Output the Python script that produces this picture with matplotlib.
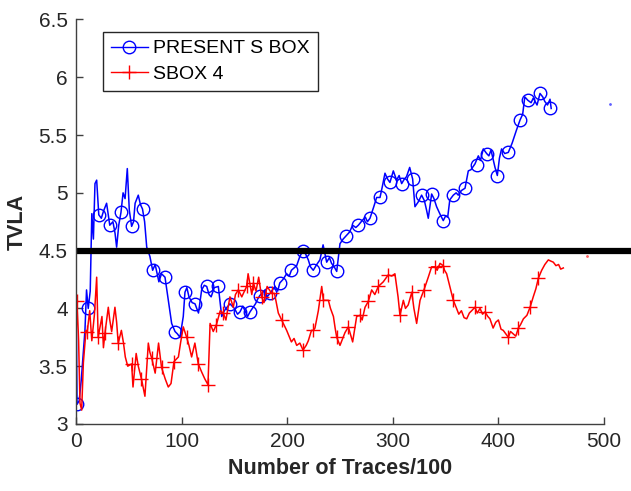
import numpy as np
import matplotlib.pyplot as plt

plt.rcParams['font.family'] = ['Liberation Sans', 'DejaVu Sans']

# PRESENT S BOX trace (x, TVLA)
blue_x = [0, 1, 3, 5, 8.5, 10, 11.6, 13.5, 15, 16.5, 18, 19.6, 21.6, 24, 26, 29, 32, 35, 37, 38.5,
          40.5, 42.6, 44.6, 46.5, 48.6, 50.5, 52.7, 54.5, 56, 59, 61, 63, 65, 67, 70, 72.6, 75, 78.5,
          81, 84.3, 87, 90.6, 93.8, 96, 98.5, 101.6, 103.2, 105, 107, 110, 112.7, 116, 119, 121.5,
          123.8, 126, 128, 131, 134.8, 138, 140.5, 143, 145.8, 150, 153, 155.3, 158, 160, 162.5,
          164.8, 167, 170, 172, 174, 179, 181, 183.7, 188.4, 191, 193, 196, 199.5, 202, 204, 209,
          212, 215, 217.5, 220, 222, 224.7, 228, 231, 234, 237.4, 240, 242, 244.5, 246.9, 250, 253,
          256, 259, 262, 265, 267.4, 271, 274, 276, 278.4, 282, 284.7, 287.9, 290, 292.6, 295,
          297.3, 300.5, 303.6, 306, 308.4, 311, 313, 316, 318.8, 321, 324, 327.3, 330, 332, 333.6,
          336.8, 339, 341.5, 344.5, 347.8, 350, 352, 354, 357.3, 360, 362, 365, 368.4, 371.5, 374,
          377.8, 381, 383, 385.7, 388.9, 391, 393, 396.8, 399, 401, 403, 406, 409.4, 413, 417,
          420.5, 423, 425, 428, 431, 433, 436.6, 439.4, 442, 444, 446.5, 448.9, 450]
blue_y = [4.28, 3.17, 3.20, 3.38, 3.81, 4.16, 4.00, 4.15, 4.82, 4.60, 5.08, 5.11, 4.81, 4.78, 4.84,
          4.91, 4.72, 4.75, 4.65, 4.53, 4.72, 4.83, 5.00, 4.95, 5.21, 4.85, 4.71, 4.75, 4.91, 4.98,
          4.90, 4.86, 4.75, 4.53, 4.45, 4.33, 4.38, 4.23, 4.30, 4.27, 4.10, 3.87, 3.80, 3.78, 3.75,
          3.93, 4.14, 4.18, 4.10, 4.05, 4.04, 3.96, 4.16, 4.20, 4.19, 4.12, 4.10, 4.18, 4.19, 3.93,
          3.98, 4.01, 4.04, 4.00, 3.95, 3.97, 4.02, 3.98, 3.93, 3.97, 4.00, 4.04, 4.08, 4.11, 4.16,
          4.10, 4.13, 4.19, 4.15, 4.22, 4.25, 4.30, 4.28, 4.33, 4.37, 4.45, 4.50, 4.47, 4.42, 4.36,
          4.33, 4.38, 4.42, 4.55, 4.40, 4.44, 4.39, 4.36, 4.32, 4.56, 4.60, 4.63, 4.66, 4.72, 4.70,
          4.72, 4.76, 4.79, 4.75, 4.78, 4.88, 4.96, 4.96, 5.05, 5.17, 5.12, 5.09, 5.19, 5.11, 5.15,
          5.08, 5.12, 5.14, 5.22, 5.12, 4.88, 4.92, 4.98, 4.93, 4.85, 4.78, 4.99, 4.95, 4.88, 4.82,
          4.76, 4.80, 4.79, 4.94, 4.98, 5.00, 4.98, 5.02, 5.04, 5.19, 5.20, 5.25, 5.32, 5.28, 5.38,
          5.34, 5.32, 5.37, 5.22, 5.15, 5.30, 5.38, 5.34, 5.35, 5.43, 5.54, 5.63, 5.68, 5.83, 5.80,
          5.78, 5.82, 5.76, 5.86, 5.83, 5.79, 5.76, 5.81, 5.73]
blue_mark_x = [1, 11.6, 21.6, 32, 42.6, 52.7, 63, 72.6, 84.3, 93.8, 103.2, 112.7, 123.8, 134.8, 145.8,
               155.3, 164.8, 174, 183.7, 193, 204, 215, 224.7, 237.4, 246.9, 256, 267.4, 278.4, 287.9,
               297.3, 308.4, 318.8, 327.3, 336.8, 347.8, 357.3, 368.4, 379.4, 388.9, 399, 409.4, 420.5,
               428, 439.4, 448.9]
blue_mark_y = [3.17, 4.00, 4.81, 4.72, 4.83, 4.71, 4.86, 4.33, 4.27, 3.80, 4.14, 4.04, 4.19, 4.19, 4.04,
               3.97, 3.97, 4.11, 4.13, 4.22, 4.33, 4.50, 4.33, 4.40, 4.32, 4.63, 4.72, 4.78, 4.96,
               5.09, 5.08, 5.12, 4.98, 4.99, 4.76, 4.98, 5.04, 5.24, 5.34, 5.15, 5.35, 5.63,
               5.80, 5.86, 5.73]

# SBOX 4 trace
red_x = [0, 1, 2.5, 3.8, 5.4, 7, 9.5, 10.7, 13, 15, 17.5, 19.6, 21, 23, 24.6, 26, 27.5, 30.6, 32, 33.8,
         36.9, 38.5, 40, 43, 45, 46.7, 49, 52.7, 54, 57, 59, 62, 65.3, 68.5, 70, 71.7, 75, 78.2, 81,
         84.5, 87.4, 90, 92.8, 97, 99, 101.6, 104.8, 107, 109.5, 112.6, 115.8, 119, 122, 125, 127,
         130, 133, 136.6, 139.5, 142, 145.8, 149, 151, 153.7, 157, 161.6, 163, 166.5, 168, 170.5, 173,
         175.8, 178, 181, 185.3, 188, 191.6, 194.8, 197, 199.5, 204, 206.5, 209, 212, 215, 218, 220,
         223, 224.8, 226.3, 229.5, 232.7, 234.3, 239, 241, 243.8, 245.4, 246.9, 250, 254.7, 257.9,
         262, 265.8, 268.9, 271, 273.7, 276.8, 280, 283, 286.3, 291, 295.7, 299, 302, 305, 306.8, 310,
         312, 314.6, 318, 320, 322.6, 325.8, 329.5, 333.6, 336.8, 340, 342, 344.7, 347.8, 349, 351,
         354, 357.3, 360.4, 362.5, 365, 367.5, 370, 372.5, 374.7, 377.8, 380, 382.6, 385, 387.3, 390,
         392, 395, 397.5, 400, 402.5, 404.6, 407, 409.4, 411.5, 414, 416.5, 418.9, 421, 423.7, 427,
         430, 433, 435.5, 437.8, 441, 444, 447.3, 449.5, 452, 454.5, 457, 459, 461.5]
red_y = [3.72, 4.06, 3.72, 3.18, 3.12, 3.53, 3.81, 3.80, 3.98, 3.72, 3.95, 4.27, 3.75, 3.85, 3.93, 3.66,
         3.79, 4.01, 3.90, 3.80, 4.01, 3.88, 3.70, 3.81, 3.70, 3.58, 3.50, 3.52, 3.32, 3.61, 3.50, 3.39,
         3.24, 3.70, 3.62, 3.57, 3.44, 3.70, 3.49, 3.39, 3.32, 3.35, 3.54, 3.58, 3.70, 3.84, 3.75, 3.68,
         3.58, 3.70, 3.52, 3.45, 3.39, 3.34, 3.87, 3.80, 3.86, 3.98, 3.96, 3.90, 4.10, 4.01, 4.12, 4.16,
         4.10, 4.19, 4.30, 4.12, 4.22, 4.15, 4.27, 4.10, 4.05, 4.19, 4.13, 4.13, 3.96, 3.90, 3.86, 3.81,
         3.71, 3.74, 3.68, 3.70, 3.64, 3.68, 3.72, 3.81, 3.81, 3.83, 3.98, 4.19, 4.07, 4.07, 4.00, 3.93,
         3.83, 3.75, 3.68, 3.79, 3.84, 3.71, 3.93, 3.94, 3.90, 4.01, 4.06, 4.16, 4.12, 4.19, 4.23, 4.29,
         4.28, 4.30, 4.10, 3.94, 4.07, 4.00, 4.03, 4.14, 4.00, 3.87, 4.07, 4.16, 4.27, 4.36, 4.36, 4.33,
         4.39, 4.37, 4.33, 4.30, 4.19, 4.07, 4.00, 3.95, 3.98, 3.92, 3.91, 3.96, 3.98, 4.01, 3.96, 4.00,
         3.95, 3.97, 3.93, 3.91, 3.83, 3.88, 3.90, 3.82, 3.81, 3.78, 3.75, 3.80, 3.78, 3.76, 3.83, 3.86,
         3.91, 3.94, 4.01, 4.10, 4.17, 4.26, 4.33, 4.38, 4.42, 4.41, 4.40, 4.37, 4.38, 4.34, 4.35]
red_mark_x = [1, 10.7, 21, 27.5, 40, 52.7, 62, 71.7, 81, 92.8, 104.8, 115.8, 125, 133, 139.5, 153.7,
              161.6, 168, 175.8, 185.3, 194.8, 215, 224.8, 234.3, 246.9, 257.9, 268.9, 276.8, 286.3,
              295.7, 306.8, 318.5, 329.5, 340, 347.8, 357.3, 377.8, 387.3, 409.4, 418.9, 430, 437.8]
red_mark_y = [4.06, 3.80, 3.75, 3.79, 3.70, 3.52, 3.39, 3.57, 3.49, 3.54, 3.75, 3.52, 3.34, 3.86, 3.96,
              4.16, 4.19, 4.22, 4.10, 4.13, 3.90, 3.64, 3.81, 4.07, 3.75, 3.84, 3.94, 4.06, 4.19,
              4.29, 3.94, 4.14, 4.16, 4.36, 4.37, 4.07, 4.01, 3.97, 3.75, 3.83, 4.01, 4.26]

# stray single points outside the traces
stray_blue = (506, 5.77)
stray_red = (483.6, 4.45)

threshold = 4.5

fig = plt.figure(figsize=(6.31, 4.91), dpi=100)
ax = fig.add_axes([0.1204, 0.1365, 0.8368, 0.8238])

ax.plot(blue_x, blue_y, color='#0000ff', lw=1.1)
ax.plot(blue_mark_x, blue_mark_y, ls='none', marker='o', ms=9, mfc='none', mec='#0000ff', mew=1.0)
ax.plot(red_x, red_y, color='#ff0000', lw=1.1)
ax.plot(red_mark_x, red_mark_y, ls='none', marker='+', ms=10, mec='#ff0000', mew=1.0)
ax.plot([stray_blue[0]], [stray_blue[1]], ls='none', marker='.', ms=2, color='#6060ff', clip_on=False)
ax.plot([stray_red[0]], [stray_red[1]], ls='none', marker='.', ms=2, color='#ff6060', clip_on=False)

# legend proxies
ax.plot([], [], color='#0000ff', lw=1.0, marker='o', ms=9, mfc='none', label='PRESENT S BOX')
ax.plot([], [], color='#ff0000', lw=1.0, marker='+', ms=10, label='SBOX 4')

ax.plot([0, 526], [threshold, threshold], color='black', lw=4.5, clip_on=False, solid_capstyle='butt')

ax.set_xlim(0, 500)
ax.set_ylim(3, 6.5)
ax.set_xticks(np.arange(0, 501, 100))
ax.set_yticks(np.arange(3, 6.51, 0.5))
ax.set_yticklabels(['3', '3.5', '4', '4.5', '5', '5.5', '6', '6.5'])

for side in ['top', 'right']:
    ax.spines[side].set_visible(False)
for side in ['left', 'bottom']:
    ax.spines[side].set_color('#404040')
    ax.spines[side].set_linewidth(1.0)
ax.tick_params(direction='in', length=5, width=1, colors='#404040', labelsize=15, labelcolor='#262626', pad=6)

ax.set_xlabel('Number of Traces/100', fontsize=15.5, fontweight='bold', color='#262626', labelpad=5)
ax.set_ylabel('TVLA', fontsize=15.5, fontweight='bold', color='#262626', labelpad=8)

handles, labels = ax.get_legend_handles_labels()
leg = ax.legend(handles[-2:], labels[-2:], loc='upper left', bbox_to_anchor=(0.051, 0.969),
                borderaxespad=0, fontsize=14, fancybox=False, framealpha=1, edgecolor='#262626',
                handlelength=1.9, handletextpad=0.3, borderpad=0.4, labelspacing=0.4)
leg.get_frame().set_linewidth(1.0)

fig.savefig('out.png', dpi=100)
